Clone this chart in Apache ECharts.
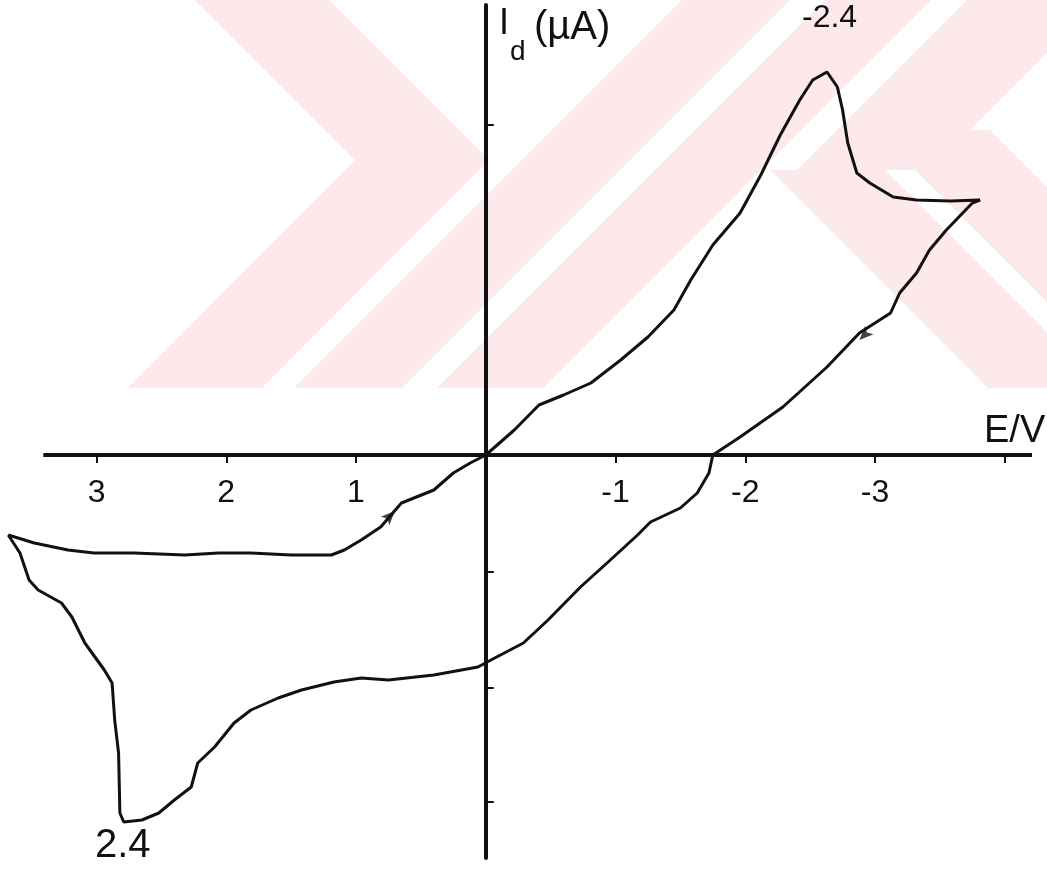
<!DOCTYPE html>
<html>
<head>
<meta charset="utf-8">
<style>
  html, body { margin: 0; padding: 0; background: #fff; }
  #main { width: 1047px; height: 874px; }
</style>
<script src="https://cdn.jsdelivr.net/npm/echarts@6/dist/echarts.min.js"></script>
</head>
<body>
<div id="main"></div>
<script>
// cyclic voltammogram, E in V (axis reversed), I in arbitrary uA units
// scan from 0 V towards negative potential, switch at -3.8 V
const forwardE = [0, -0.22, -0.41, -0.60, -0.81, -1.04, -1.25, -1.45, -1.58, -1.75, -1.96, -2.12, -2.27, -2.42, -2.52, -2.63,
  -2.71, -2.75, -2.79, -2.86, -2.96, -3.14, -3.32, -3.58, -3.81];
const forwardI = [0, 0.25, 0.50, 0.60, 0.72, 0.95, 1.18, 1.45, 1.75, 2.10, 2.42, 2.80, 3.20, 3.55, 3.75, 3.83,
  3.68, 3.45, 3.12, 2.82, 2.72, 2.58, 2.55, 2.54, 2.55];

// reverse scan from -3.8 V to +3.7 V
const reverseE = [-3.81, -3.75, -3.55, -3.42, -3.32, -3.19, -3.12, -2.88, -2.63, -2.29, -1.96, -1.75, -1.72, -1.63, -1.50,
  -1.27, -1.17, -0.96, -0.73, -0.48, -0.29, -0.04, 0.06, 0.40, 0.75, 0.96, 1.17, 1.42, 1.60, 1.81, 1.94, 2.09, 2.22,
  2.27, 2.40, 2.52, 2.65, 2.79, 2.82, 2.83, 2.86, 2.88, 2.94, 3.09, 3.19, 3.27, 3.45, 3.52, 3.59, 3.68];
const reverseI = [2.55, 2.52, 2.25, 2.05, 1.82, 1.62, 1.42, 1.22, 0.88, 0.48, 0.18, 0, -0.18, -0.38, -0.53,
  -0.67, -0.80, -1.05, -1.32, -1.65, -1.88, -2.05, -2.12, -2.20, -2.25, -2.23, -2.27, -2.35, -2.43, -2.55, -2.68, -2.92, -3.08,
  -3.32, -3.45, -3.58, -3.65, -3.67, -3.58, -2.98, -2.65, -2.28, -2.15, -1.88, -1.62, -1.48, -1.35, -1.25, -0.98, -0.80];

// back from +3.7 V to 0 V
const returnE = [3.68, 3.48, 3.22, 3.02, 2.71, 2.32, 2.06, 1.81, 1.50, 1.19, 1.09, 0.96, 0.81, 0.65, 0.40, 0.25, 0.12, 0];
const returnI = [-0.80, -0.88, -0.95, -0.98, -0.98, -1.00, -0.98, -0.98, -1.00, -1.00, -0.95, -0.85, -0.72, -0.48, -0.35, -0.18, -0.08, 0];

// scan direction arrows drawn on the trace
const arrowE = [0.70, -2.88];
const arrowI = [-0.56, 1.15];
const arrowRotate = [-45, 135];

const tickE = [-4, -3, -2, -1, 1, 2, 3];
const labelE = [-3, -2, -1, 1, 2, 3];
const axisEndE = [3.41, -4.21];
const tickIUp = [3.3];
const tickIDown = [-1.17, -2.33, -3.47];

const zip = (xs, ys) => xs.map((x, i) => [x, ys[i]]);

const chart = echarts.init(document.getElementById('main'));
const ink = '#111';
const font = '"Liberation Sans", Arial, sans-serif';
const pink = '#fde8ec';

// faint scanned watermark behind the plot (diagonal bands)
const slash = (u1, u2, y1, y2) => ({
  type: 'polygon', z: -10, silent: true,
  shape: { points: [[u1 - y1, y1], [u2 - y1, y1], [u2 - y2, y2], [u1 - y2, y2]] },
  style: { fill: pink }
});
const back = (v1, v2, y1, y2) => ({
  type: 'polygon', z: -10, silent: true,
  shape: { points: [[v1 + y1, y1], [v2 + y1, y1], [v2 + y2, y2], [v1 + y2, y2]] },
  style: { fill: pink }
});
const watermark = [
  { type: 'polyline', z: -10, silent: true, shape: { points: [[202, -60], [422, 160], [133, 450]] },
    style: { stroke: pink, lineWidth: 95, fill: null, lineJoin: 'miter' } },
  slash(682, 790, 0, 388),
  slash(825, 931, 0, 388),
  slash(967, 1100, 0, 170),
  back(600, 715, 170, 388),
  back(745, 860, 130, 388),
  { type: 'rect', z: -9, silent: true, shape: { x: 0, y: 388, width: 1047, height: 500 }, style: { fill: '#fff' } }
];

const lineSeries = (data, extra) => Object.assign({
  type: 'line',
  data: data,
  xAxisIndex: 0,
  yAxisIndex: 0,
  showSymbol: false,
  clip: false,
  lineStyle: { color: ink, width: 3 },
  animation: false
}, extra || {});

const axisLineStyle = { color: ink, width: 4 };

const option = {
  backgroundColor: '#fff',
  animation: false,
  // upper half carries the E axis, lower half only continues the current axis
  grid: [
    { left: 7, right: 15, top: 5, height: 450, outerBoundsMode: 'none', containLabel: false },
    { left: 7, right: 15, top: 455, bottom: 16, outerBoundsMode: 'none', containLabel: false }
  ],
  xAxis: [
    {
      gridIndex: 0,
      type: 'value',
      inverse: true,
      min: -4.21,
      max: 3.69,
      splitLine: { show: false },
      axisLine: { show: false, onZero: false },
      axisTick: { show: true, customValues: tickE, length: 8, lineStyle: { color: ink, width: 2 } },
      axisLabel: { customValues: labelE, margin: 22, color: ink, fontSize: 32, fontFamily: font }
    },
    {
      gridIndex: 1,
      type: 'value',
      inverse: true,
      min: -4.21,
      max: 3.69,
      show: false
    }
  ],
  yAxis: [
    {
      gridIndex: 0,
      type: 'value',
      min: 0,
      max: 4.5,
      splitLine: { show: false },
      axisLine: { onZero: true, lineStyle: axisLineStyle },
      axisTick: { show: true, inside: true, customValues: tickIUp, length: 8, lineStyle: { color: ink, width: 2 } },
      axisLabel: { show: false }
    },
    {
      gridIndex: 1,
      type: 'value',
      min: -4.03,
      max: 0,
      splitLine: { show: false },
      axisLine: { onZero: true, lineStyle: axisLineStyle },
      axisTick: { show: true, inside: true, customValues: tickIDown, length: 8, lineStyle: { color: ink, width: 2 } },
      axisLabel: { show: false }
    }
  ],
  graphic: watermark.concat([
    { type: 'text', left: 499, top: 6, style: { text: 'I', font: '36px ' + font, fill: ink } },
    { type: 'text', left: 510, top: 38, style: { text: 'd', font: '28px ' + font, fill: ink } },
    { type: 'text', left: 534, top: 8, style: { text: '(µA)', font: '40px ' + font, fill: ink } },
    { type: 'text', left: 984, top: 413, style: { text: 'E/V', font: '38px ' + font, fill: ink } },
    { type: 'text', left: 802, top: 2, style: { text: '-2.4', font: '32px ' + font, fill: ink } },
    { type: 'text', left: 95, top: 826, style: { text: '2.4', font: '40px ' + font, fill: ink } }
  ]),
  series: [
    lineSeries(zip(forwardE, forwardI), {
      // E axis line, from the left end to the right end of the drawn axis
      markLine: {
        silent: true,
        symbol: 'none',
        animation: false,
        label: { show: false },
        lineStyle: { color: ink, width: 4, type: 'solid' },
        data: [[{ coord: [axisEndE[0], 0] }, { coord: [axisEndE[1], 0] }]]
      }
    }),
    lineSeries(zip(reverseE, reverseI)),
    lineSeries(zip(returnE, returnI)),
    {
      type: 'scatter',
      xAxisIndex: 0,
      yAxisIndex: 0,
      clip: false,
      symbol: 'arrow',
      symbolSize: [9, 14],
      data: arrowE.map((e, i) => ({ value: [e, arrowI[i]], symbolRotate: arrowRotate[i] })),
      itemStyle: { color: ink },
      silent: true,
      animation: false
    }
  ]
};

chart.setOption(option);
</script>
</body>
</html>
